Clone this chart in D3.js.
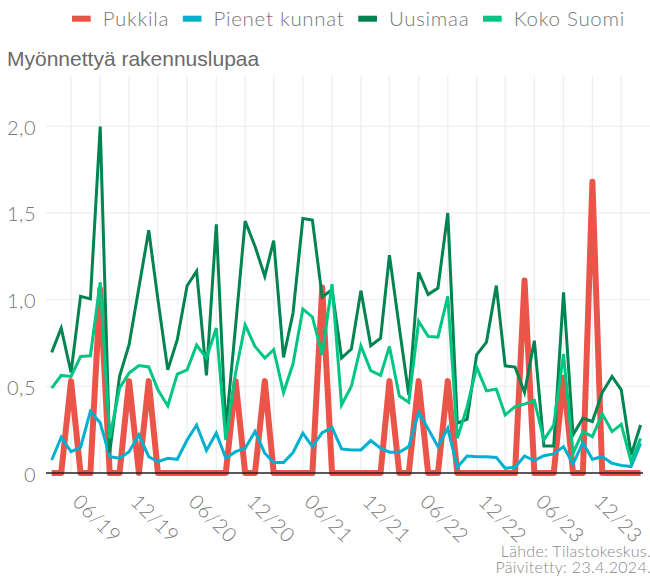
<!DOCTYPE html>
<html>
<head>
<meta charset="utf-8">
<script src="https://cdn.jsdelivr.net/npm/d3@7"></script>
<style>
  html, body { margin: 0; padding: 0; background: #fff; }
  svg { display: block; }
</style>
</head>
<body>
<div id="chart"></div>
<script>
// ---------- DATA ----------
const startMonth = "2019-04";      // first monthly observation
const seriesNames = ["Pukkila", "Pienet kunnat", "Uusimaa", "Koko Suomi"];
const seriesColors = ["#EB5449", "#00B1CF", "#008452", "#00C684"];

const pukkila = [0,0,0.53,0,0,1.06,0,0,0.53,0,0.53,0,0,0,0,0,0,0,0,0.53,
  0,0,0.53,0,0,0,0,0,1.07,0,0,0,0,0,0,0.53,0,0,0.53,0,
  0,0.53,0,0,0,0,0,0,0,1.11,0,0,0,0.55,0,0,1.68,0,0,0,
  0,0];
const pienetKunnat = [0.075,0.206,0.123,0.148,0.355,0.29,0.094,0.085,0.123,0.22,0.094,0.066,0.085,0.079,0.19,0.277,0.13,0.23,0.085,0.123,
  0.143,0.239,0.114,0.06,0.06,0.118,0.23,0.152,0.233,0.262,0.139,0.133,0.133,0.187,0.143,0.12,0.12,0.152,0.35,0.255,
  0.152,0.258,0.033,0.098,0.094,0.094,0.09,0.027,0.033,0.098,0.071,0.10,0.11,0.152,0.052,0.175,0.079,0.094,0.056,0.044,
  0.037,0.171];
const uusimaa = [0.696,0.836,0.58,1.019,1.004,1.998,0.12,0.557,0.74,1.07,1.40,1.0,0.595,0.769,1.08,1.164,0.563,1.434,0.25,0.85,
  1.453,1.308,1.135,1.341,0.667,0.923,1.468,1.459,1.015,1.058,0.663,0.715,1.052,0.734,0.778,1.256,0.84,0.45,1.158,1.029,
  1.067,1.50,0.287,0.31,0.682,0.755,1.081,0.618,0.611,0.464,0.763,0.156,0.156,1.042,0.22,0.316,0.297,0.464,0.557,0.48,
  0.104,0.277];
const kokoSuomi = [0.489,0.563,0.557,0.672,0.676,1.10,0.20,0.49,0.576,0.62,0.612,0.48,0.387,0.57,0.595,0.738,0.663,0.836,0.19,0.58,
  0.855,0.73,0.663,0.711,0.464,0.63,0.946,0.90,0.682,1.09,0.393,0.50,0.734,0.59,0.563,0.73,0.445,0.407,0.875,0.788,
  0.784,1.019,0.20,0.383,0.611,0.474,0.484,0.335,0.383,0.397,0.418,0.19,0.277,0.686,0.114,0.239,0.21,0.341,0.239,0.281,
  0.066,0.20];

const yTickValues = [0, 0.5, 1.0, 1.5, 2.0];
const yTickLabels = ["0", "0,5", "1,0", "1,5", "2,0"];
const yMax = 2.29;
const titleText = "Myönnettyä rakennuslupaa";
const sourceLines = ["Lähde: Tilastokeskus.", "Päivitetty: 23.4.2024."];

// ---------- BUILD ----------
const W = 650, H = 578;
const parseMonth = d3.timeParse("%Y-%m");
const t0 = parseMonth(startMonth);
const allSeries = [pukkila, pienetKunnat, uusimaa, kokoSuomi];
const nPoints = pukkila.length;
const dates = d3.range(nPoints).map(i => d3.timeMonth.offset(t0, i));

const plotLeft = 46, plotRight = 650, plotTop = 76, plotBottom = 473;

const x = d3.scaleTime()
  .domain([dates[0], dates[nPoints - 1]])
  .range([51.7, 640.6]);
const y = d3.scaleLinear().domain([0, yMax]).range([plotBottom, plotTop]);

const svg = d3.select("#chart").append("svg")
  .attr("width", W).attr("height", H)
  .style("font-family", "Lato, 'Noto Sans', sans-serif")
  .style("font-weight", 300);

// vertical grid: every third month (Mar/Jun/Sep/Dec)
const gridDates = dates.filter(d => d.getMonth() % 3 === 2);
svg.append("g").selectAll("line").data(gridDates).join("line")
  .attr("x1", d => x(d)).attr("x2", d => x(d))
  .attr("y1", plotTop).attr("y2", plotBottom)
  .attr("stroke", "#eeeeee").attr("stroke-width", 1.3);

// horizontal grid
svg.append("g").selectAll("line").data(yTickValues.slice(1)).join("line")
  .attr("x1", plotLeft).attr("x2", plotRight)
  .attr("y1", d => y(d)).attr("y2", d => y(d))
  .attr("stroke", "#eeeeee").attr("stroke-width", 1.3);

// y-axis labels via d3 axis
const yAxis = d3.axisLeft(y).tickValues(yTickValues)
  .tickFormat((d, i) => yTickLabels[i]).tickSize(0).tickPadding(0);
const yg = svg.append("g").attr("transform", `translate(36,0)`).call(yAxis);
yg.select(".domain").remove();
yg.selectAll("text").attr("font-size", 20).attr("fill", "#777")
  .attr("font-family", "Lato, sans-serif").attr("font-weight", 300)
  .attr("letter-spacing", 0.5).attr("dy", "0.4em");

// lines
const line = d3.line().x((d, i) => x(dates[i])).y(d => y(d));
const widths = [6, 3, 3, 3];
allSeries.forEach((s, k) => {
  svg.append("path").datum(s)
    .attr("fill", "none")
    .attr("stroke", seriesColors[k])
    .attr("stroke-width", widths[k])
    .attr("stroke-linejoin", k === 0 ? "round" : "miter")
    .attr("d", line);
});

// baseline
svg.append("line")
  .attr("x1", plotLeft).attr("x2", 643)
  .attr("y1", y(0)).attr("y2", y(0))
  .attr("stroke", "#222").attr("stroke-width", 1.5);

// x-axis labels: June and December
const labelDates = dates.filter(d => d.getMonth() === 5 || d.getMonth() === 11);
const fmt = d3.timeFormat("%m/%y");
const xAxis = d3.axisBottom(x).tickValues(labelDates).tickFormat(fmt).tickSize(0).tickPadding(0);
const xg = svg.append("g").attr("transform", `translate(0,${plotBottom})`).call(xAxis);
xg.select(".domain").remove();
xg.selectAll(".tick text")
  .attr("font-size", 20).attr("fill", "#777").attr("font-family", "Lato, sans-serif")
  .attr("font-weight", 300).attr("letter-spacing", 0.6)
  .attr("text-anchor", "start")
  .attr("y", 0).attr("dy", 0)
  .attr("transform", "translate(0,30) rotate(45)");

// title
svg.append("text").attr("x", 7).attr("y", 66)
  .attr("font-family", "'Liberation Sans', Arial, sans-serif")
  .attr("font-weight", 400)
  .attr("font-size", 21).attr("fill", "#6a6a6a").text(titleText);

// legend
const leg = svg.append("g");
let lx = 72;
seriesNames.forEach((name, k) => {
  leg.append("rect").attr("x", lx).attr("y", 15.7).attr("width", 18.7).attr("height", 6)
    .attr("fill", seriesColors[k]);
  const t = leg.append("text").attr("x", lx + 30.7).attr("y", 26)
    .attr("font-size", 20.5).attr("letter-spacing", 0.7).attr("fill", "#777").text(name);
  lx = lx + 30.7 + t.node().getComputedTextLength() + 13.7;
});

// source
svg.append("g").selectAll("text").data(sourceLines).join("text")
  .attr("x", 651).attr("y", (d, i) => 557 + i * 16)
  .attr("text-anchor", "end").attr("font-size", 16).attr("letter-spacing", 0.3)
  .attr("fill", "#888")
  .text(d => d);
</script>
</body>
</html>
